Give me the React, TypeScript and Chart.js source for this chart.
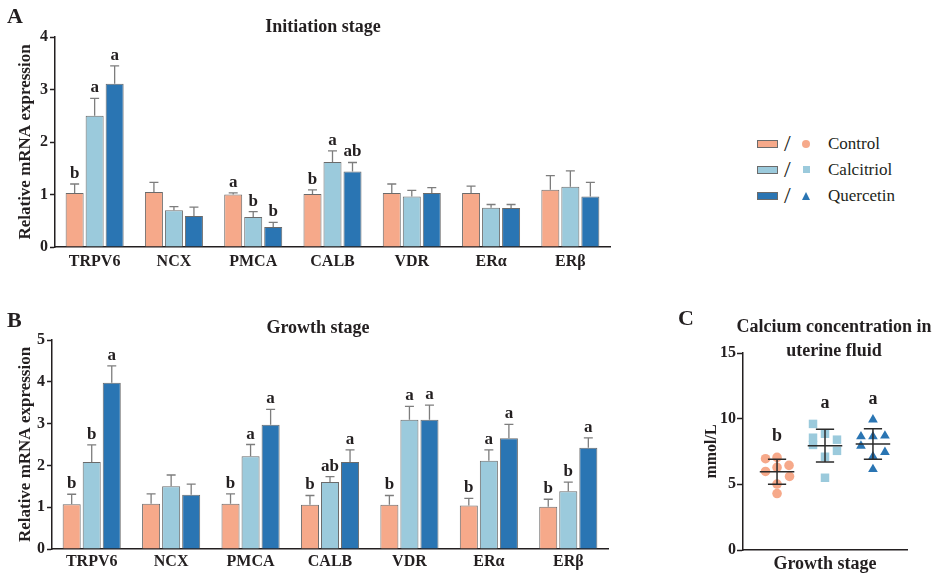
import React, { useEffect, useRef } from "react";
import { Chart, registerables } from "chart.js";

Chart.register(...registerables);

const SERIF = "Liberation Serif, Tinos, Times New Roman, DejaVu Serif, serif";
const INK = "#231f20";
const COLORS = ["#F6A98A", "#9BCADC", "#2A75B3"];
const BAR_BORDER = "#6b6b6b";
const ERR_COLOR = "#7d7d7d";

// ---- categories ----
const genes = ["TRPV6", "NCX", "PMCA", "CALB", "VDR", "ERα", "ERβ"];
const treatments = ["Control", "Calcitriol", "Quercetin"];

// ---- Panel A: initiation stage ----
const initControl = [1.03, 1.05, 1.0, 1.01, 1.03, 1.03, 1.09];
const initControlErr = [0.17, 0.18, 0.03, 0.08, 0.17, 0.13, 0.27];
const initCalcitriol = [2.5, 0.7, 0.57, 1.62, 0.96, 0.75, 1.15];
const initCalcitriolErr = [0.33, 0.07, 0.105, 0.21, 0.12, 0.06, 0.3];
const initQuercetin = [3.11, 0.59, 0.38, 1.44, 1.03, 0.745, 0.96];
const initQuercetinErr = [0.34, 0.17, 0.09, 0.17, 0.1, 0.065, 0.27];
const initControlSig = ["b", "", "a", "b", "", "", ""];
const initCalcitriolSig = ["a", "", "b", "a", "", "", ""];
const initQuercetinSig = ["a", "", "b", "ab", "", "", ""];
const initYMax = 4;

// ---- Panel B: growth stage ----
const growControl = [1.07, 1.08, 1.08, 1.06, 1.06, 1.04, 1.01];
const growControlErr = [0.24, 0.24, 0.24, 0.22, 0.22, 0.17, 0.18];
const growCalcitriol = [2.08, 1.5, 2.22, 1.6, 3.09, 2.11, 1.38];
const growCalcitriolErr = [0.41, 0.27, 0.28, 0.13, 0.32, 0.26, 0.22];
const growQuercetin = [3.98, 1.3, 2.97, 2.08, 3.09, 2.65, 2.42];
const growQuercetinErr = [0.4, 0.25, 0.37, 0.29, 0.35, 0.33, 0.24];
const growControlSig = ["b", "", "b", "b", "b", "b", "b"];
const growCalcitriolSig = ["b", "", "a", "ab", "a", "a", "b"];
const growQuercetinSig = ["a", "", "a", "a", "a", "a", "a"];
const growYMax = 5;

// ---- Panel C: calcium concentration (mmol/L) ----
const calciumControl = [6.95, 7.05, 6.44, 5.98, 6.29, 5.6, 5.02, 4.3];
const calciumControlJitter = [-0.24, 0, 0.25, -0.24, 0, 0.26, 0, 0];
const calciumCalcitriol = [9.6, 8.85, 8.55, 8.0, 8.4, 7.55, 7.1, 5.5];
const calciumCalcitriolJitter = [-0.25, 0, -0.25, -0.25, 0.25, 0.25, 0, 0];
const calciumQuercetin = [9.92, 8.64, 8.64, 8.7, 7.93, 7.45, 7.12, 6.15];
const calciumQuercetinJitter = [0, -0.25, 0, 0.25, -0.25, 0.25, 0, 0];
const calciumSig = ["b", "a", "a"];
const calciumTicks = [0, 5, 10, 15];

Chart.defaults.font.family = SERIF;
Chart.defaults.color = INK;

function mean(a: number[]) {
  return a.reduce((s, v) => s + v, 0) / a.length;
}
function sd(a: number[]) {
  const m = mean(a);
  return Math.sqrt(a.reduce((s, v) => s + (v - m) * (v - m), 0) / (a.length - 1));
}

type TextItem = { text: string; x: number; y: number; size: number; align?: CanvasTextAlign; bold?: boolean };

function textPlugin(items: TextItem[]) {
  return {
    id: "texts",
    afterDraw(chart: any) {
      const ctx = chart.ctx;
      ctx.save();
      ctx.fillStyle = INK;
      ctx.textBaseline = "alphabetic";
      items.forEach((t) => {
        ctx.font = `${t.bold === false ? "" : "bold "}${t.size}px ${SERIF}`;
        ctx.textAlign = t.align || "center";
        ctx.fillText(t.text, t.x, t.y);
      });
      ctx.restore();
    },
  };
}

function errorPlugin(errors: number[][], letters: string[][]) {
  return {
    id: "errorBars",
    afterDatasetsDraw(chart: any) {
      const ctx = chart.ctx;
      const y = chart.scales.y;
      chart.data.datasets.forEach((ds: any, i: number) => {
        const meta = chart.getDatasetMeta(i);
        meta.data.forEach((bar: any, j: number) => {
          const top = y.getPixelForValue(ds.data[j] + errors[i][j]);
          ctx.save();
          ctx.strokeStyle = ERR_COLOR;
          ctx.lineWidth = 1.3;
          ctx.beginPath();
          ctx.moveTo(bar.x, bar.y);
          ctx.lineTo(bar.x, top);
          ctx.moveTo(bar.x - 4.5, top);
          ctx.lineTo(bar.x + 4.5, top);
          ctx.stroke();
          const l = letters[i][j];
          if (l) {
            ctx.fillStyle = INK;
            ctx.font = `bold 17px ${SERIF}`;
            ctx.textAlign = "center";
            ctx.textBaseline = "alphabetic";
            ctx.fillText(l, bar.x, top - 6);
          }
          ctx.restore();
        });
      });
    },
  };
}

function barConfig(p: {
  series: number[][];
  errors: number[][];
  letters: string[][];
  yMax: number;
  padTop: number;
  padRight: number;
  yWidth: number;
  xHeight: number;
  labelPad: number;
  texts: TextItem[];
}) {
  return {
    type: "bar",
    data: {
      labels: genes,
      datasets: p.series.map((vals, i) => ({
        label: treatments[i],
        data: vals,
        backgroundColor: COLORS[i],
        borderColor: BAR_BORDER,
        borderWidth: 1,
        categoryPercentage: 0.757,
        barPercentage: 0.9,
      })),
    },
    options: {
      responsive: false,
      animation: false,
      events: [],
      layout: { padding: { left: 0, right: p.padRight, top: p.padTop, bottom: 0 } },
      plugins: { legend: { display: false }, tooltip: { enabled: false }, title: { display: false } },
      scales: {
        x: {
          type: "category",
          grid: { display: false, drawTicks: false },
          border: { display: true, color: INK, width: 1.5 },
          ticks: { font: { size: 16, weight: "bold" }, color: INK, padding: p.labelPad, maxRotation: 0, autoSkip: false },
          afterFit: (s: any) => {
            s.height = p.xHeight;
          },
        },
        y: {
          min: 0,
          max: p.yMax,
          ticks: { stepSize: 1, font: { size: 16, weight: "bold" }, color: INK, padding: 2 },
          grid: { display: true, drawOnChartArea: false, drawTicks: true, tickLength: 5, tickColor: INK, tickWidth: 1.5 },
          border: { display: true, color: INK, width: 1.5 },
          title: {
            display: true,
            text: "Relative mRNA expression",
            font: { size: 17, weight: "bold" },
            color: INK,
            padding: { top: 15, bottom: 0 },
          },
          afterFit: (s: any) => {
            s.width = p.yWidth;
          },
        },
      },
    },
    plugins: [errorPlugin(p.errors, p.letters), textPlugin(p.texts)],
  };
}

function calciumConfig() {
  const groups = [calciumControl, calciumCalcitriol, calciumQuercetin];
  const jitters = [calciumControlJitter, calciumCalcitriolJitter, calciumQuercetinJitter];
  const styles = ["circle", "rect", "triangle"];
  const radii = [4.8, 6, 5.6];
  const summary = {
    id: "summary",
    afterDatasetsDraw(chart: any) {
      const { ctx } = chart;
      const x = chart.scales.x;
      const y = chart.scales.y;
      groups.forEach((vals, i) => {
        const m = mean(vals);
        const s = sd(vals);
        const cx = x.getPixelForValue(i + 1);
        const hm = x.getPixelForValue(i + 1.36) - cx;
        const hc = x.getPixelForValue(i + 1.19) - cx;
        const ym = y.getPixelForValue(m);
        const yt = y.getPixelForValue(m + s);
        const yb = y.getPixelForValue(m - s);
        ctx.save();
        ctx.strokeStyle = "#2b2b2b";
        ctx.lineWidth = 1.5;
        ctx.beginPath();
        ctx.moveTo(cx - hm, ym);
        ctx.lineTo(cx + hm, ym);
        ctx.moveTo(cx, yt);
        ctx.lineTo(cx, yb);
        ctx.moveTo(cx - hc, yt);
        ctx.lineTo(cx + hc, yt);
        ctx.moveTo(cx - hc, yb);
        ctx.lineTo(cx + hc, yb);
        ctx.stroke();
        ctx.fillStyle = INK;
        ctx.font = `bold 18px ${SERIF}`;
        ctx.textAlign = "center";
        ctx.textBaseline = "alphabetic";
        ctx.fillText(calciumSig[i], cx, y.getPixelForValue(Math.max(...vals)) - 16);
        ctx.restore();
      });
    },
  };
  return {
    type: "scatter",
    data: {
      datasets: groups.map((vals, i) => ({
        label: treatments[i],
        data: vals.map((v, k) => ({ x: i + 1 + jitters[i][k], y: v })),
        pointStyle: styles[i],
        pointRadius: radii[i],
        backgroundColor: COLORS[i],
        borderWidth: 0,
      })),
    },
    options: {
      responsive: false,
      animation: false,
      events: [],
      layout: { padding: { left: 0, right: 33, top: 53, bottom: 0 } },
      plugins: { legend: { display: false }, tooltip: { enabled: false } },
      scales: {
        x: {
          type: "linear",
          min: 0.29,
          max: 3.71,
          ticks: { display: false },
          grid: { display: false, drawTicks: false },
          border: { display: true, color: INK, width: 1.5 },
          title: { display: true, text: "Growth stage", font: { size: 18, weight: "bold" }, color: INK, padding: 0 },
          afterFit: (s: any) => {
            s.height = 25;
          },
        },
        y: {
          min: 0,
          max: 15,
          afterBuildTicks: (s: any) => {
            s.ticks = calciumTicks.map((v) => ({ value: v }));
          },
          ticks: { font: { size: 16, weight: "bold" }, color: INK, padding: 1 },
          grid: { display: true, drawOnChartArea: false, drawTicks: true, tickLength: 6, tickColor: INK, tickWidth: 1.5 },
          border: { display: true, color: INK, width: 1.5 },
          title: { display: true, text: "mmol/L", font: { size: 16, weight: "bold" }, color: INK, padding: { top: 62, bottom: 0 } },
          afterFit: (s: any) => {
            s.width = 103;
          },
        },
      },
    },
    plugins: [
      summary,
      textPlugin([
        { text: "C", x: 38, y: 25, size: 22, align: "left" },
        { text: "Calcium concentration in", x: 194, y: 32, size: 18 },
        { text: "uterine fluid", x: 194, y: 56, size: 18 },
      ]),
    ],
  };
}

function ChartCanvas(props: { make: () => any; left: number; top: number; width: number; height: number }) {
  const ref = useRef<HTMLCanvasElement | null>(null);
  useEffect(() => {
    const chart = new Chart(ref.current as HTMLCanvasElement, props.make());
    return () => chart.destroy();
  }, []);
  return (
    <canvas
      ref={ref}
      width={props.width}
      height={props.height}
      style={{ position: "absolute", left: props.left, top: props.top, width: props.width, height: props.height, display: "block" }}
    />
  );
}

function Legend() {
  const rows = [143.5, 169.5, 196];
  return (
    <>
      {treatments.map((t, i) => {
        const cy = rows[i];
        let marker: any;
        if (i === 0)
          marker = <div style={{ position: "absolute", left: 45, top: 6, width: 8, height: 8, borderRadius: 4, background: COLORS[0] }} />;
        else if (i === 1)
          marker = <div style={{ position: "absolute", left: 45.5, top: 6.5, width: 7, height: 7, background: COLORS[1] }} />;
        else
          marker = (
            <div
              style={{
                position: "absolute",
                left: 44.5,
                top: 5.5,
                width: 0,
                height: 0,
                borderLeft: "4.5px solid transparent",
                borderRight: "4.5px solid transparent",
                borderBottom: `8px solid ${COLORS[2]}`,
              }}
            />
          );
        return (
          <div key={t} style={{ position: "absolute", left: 757, top: cy - 10, width: 160, height: 20 }}>
            <div
              style={{
                position: "absolute",
                left: 0,
                top: 6,
                width: 19,
                height: 6,
                background: COLORS[i],
                border: `1px solid ${BAR_BORDER}`,
              }}
            />
            <span style={{ position: "absolute", left: 27, top: -3, fontSize: 24, lineHeight: "24px", fontFamily: SERIF, color: INK }}>/</span>
            {marker}
            <span style={{ position: "absolute", left: 71, top: 0, fontSize: 17, lineHeight: "20px", fontFamily: SERIF, color: INK, whiteSpace: "nowrap" }}>
              {t}
            </span>
          </div>
        );
      })}
    </>
  );
}

export default function App() {
  return (
    <div style={{ position: "absolute", left: 0, top: 0, width: 940, height: 575, background: "#fff", overflow: "hidden" }}>
      <ChartCanvas
        left={0}
        top={0}
        width={620}
        height={290}
        make={() =>
          barConfig({
            series: [initControl, initCalcitriol, initQuercetin],
            errors: [initControlErr, initCalcitriolErr, initQuercetinErr],
            letters: [initControlSig, initCalcitriolSig, initQuercetinSig],
            yMax: initYMax,
            padTop: 37,
            padRight: 10,
            yWidth: 55,
            xHeight: 43,
            labelPad: 5,
            texts: [
              { text: "A", x: 7, y: 23, size: 22, align: "left" },
              { text: "Initiation stage", x: 323, y: 32, size: 18 },
            ],
          })
        }
      />
      <ChartCanvas
        left={0}
        top={290}
        width={620}
        height={285}
        make={() =>
          barConfig({
            series: [growControl, growCalcitriol, growQuercetin],
            errors: [growControlErr, growCalcitriolErr, growQuercetinErr],
            letters: [growControlSig, growCalcitriolSig, growQuercetinSig],
            yMax: growYMax,
            padTop: 50,
            padRight: 12,
            yWidth: 52,
            xHeight: 26,
            labelPad: 3,
            texts: [
              { text: "B", x: 7, y: 37, size: 22, align: "left" },
              { text: "Growth stage", x: 318, y: 43, size: 18 },
            ],
          })
        }
      />
      <ChartCanvas left={640} top={300} width={300} height={275} make={calciumConfig} />
      <Legend />
    </div>
  );
}
